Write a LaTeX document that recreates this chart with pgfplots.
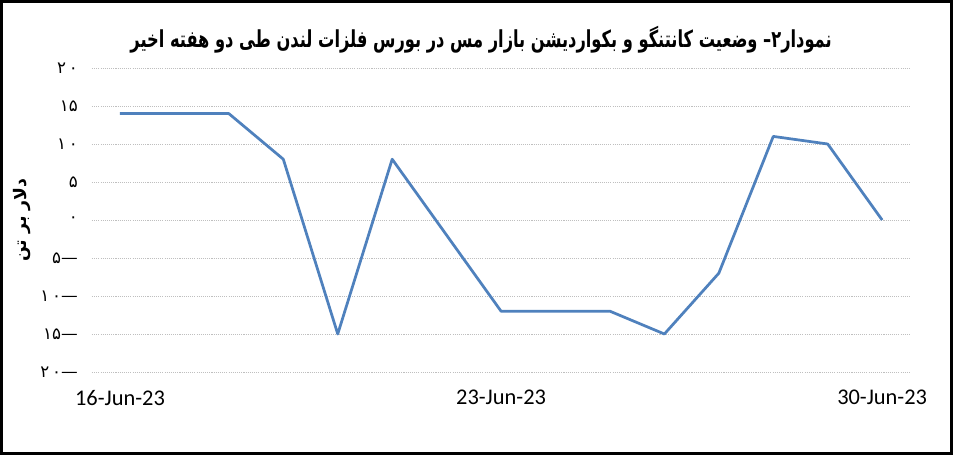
\documentclass[border=0pt]{standalone}
\usepackage{fontspec}
\usepackage{pgfplots}
\pgfplotsset{compat=1.18}
\setmainfont{Carlito}
\newfontfamily\pfont[Script=Arabic]{DejaVu Sans}
\TeXXeTstate=1
\definecolor{lineblue}{RGB}{79,129,189}
\definecolor{gridgray}{RGB}{191,191,191}
\begin{document}
\begin{tikzpicture}
\useasboundingbox (-69pt,-62.25pt) rectangle (645.75pt,279pt);
\fill[white] (-69pt,-62.25pt) rectangle (645.75pt,279pt);
\draw[black,line width=1.9pt] (-68.05pt,-61.3pt) rectangle (644.8pt,278.05pt);
\begin{axis}[
  at={(0pt,0pt)}, anchor=south west,
  scale only axis,
  width=614.25pt, height=228pt,
  xmin=-0.514, xmax=14.53,
  ymin=-20, ymax=20,
  axis line style={draw=none},
  major tick length=0pt,
  xtick={0,7,14},
  xticklabels={16-Jun-23,23-Jun-23,30-Jun-23},
  ytick={-20,-15,-10,-5,0,5,10,15,20},
  yticklabels={{\pfont ۲\,۰\mbox{—}},{\pfont ۱۵\mbox{—}},{\pfont ۱\,۰\mbox{—}},{\pfont ۵\mbox{—}},{\pfont ۰\hspace{6pt}},{\pfont ۵\hspace{6pt}},{\pfont ۱\,۰\hspace{6pt}},{\pfont ۱۵\hspace{6pt}},{\pfont ۲\,۰\hspace{6pt}}},
  xticklabel style={anchor=north, inner sep=0pt, yshift=-13.5pt, font=\fontsize{16.8}{19}\selectfont},
  yticklabel style={anchor=east, inner sep=0pt, xshift=-10.5pt, font=\fontsize{12.5}{14}\selectfont},
  ymajorgrids,
  grid style={gridgray, line width=0.6pt, dash pattern=on 0.8pt off 0.8pt},
  ylabel={\pfont\bfseries\beginR دلار بر تن\endR},
  every axis y label/.style={at={(axis description cs:-0.0855,0.5)}, rotate=90, anchor=center, font=\fontsize{13}{15}\selectfont},
  title={\scalebox{0.937}[1.35]{\pfont\bfseries\beginR نمودار۲– وضعیت کانتنگو و بکواردیشن بازار مس در بورس فلزات لندن طی دو هفته اخیر\endR}},
  every axis title/.style={at={(axis description cs:0.475,1.0)}, anchor=center, yshift=21pt, font=\fontsize{13}{16}\selectfont},
]
\addplot[lineblue, line width=2.05pt, line join=round, mark=none] coordinates {
(0,14) (2,14) (3,8) (4,-15) (5,8) (7,-12) (9,-12) (10,-15) (11,-7) (12,11) (13,10) (14,0)
};
\end{axis}
\end{tikzpicture}
\end{document}
